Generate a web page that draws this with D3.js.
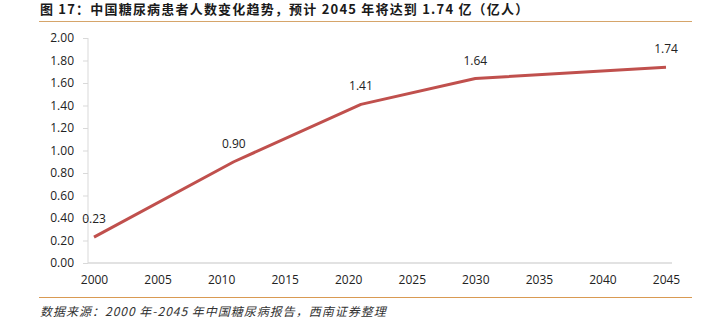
<!DOCTYPE html>
<html><head><meta charset="utf-8">
<script src="https://cdn.jsdelivr.net/npm/d3@7/dist/d3.min.js"></script>
<style>
html,body{margin:0;padding:0;background:#fff;}
svg{display:block;}
</style></head>
<body>
<svg id="c" width="720" height="323"></svg>
<script>
const title = "图 17：中国糖尿病患者人数变化趋势，预计 2045 年将达到 1.74 亿（亿人）";
const source = "数据来源：2000 年-2045 年中国糖尿病报告，西南证券整理";
const years = [2000, 2011, 2021, 2030, 2045];
const values = [0.23, 0.90, 1.41, 1.64, 1.74];
const xTicks = [2000, 2005, 2010, 2015, 2020, 2025, 2030, 2035, 2040, 2045];
const yTicks = [0, 0.2, 0.4, 0.6, 0.8, 1.0, 1.2, 1.4, 1.6, 1.8, 2.0];

const svg = d3.select("#c");
const x = d3.scaleLinear().domain([2000, 2045]).range([94, 666]);
const y = d3.scaleLinear().domain([0, 2]).range([263, 38]);

// title
svg.append("text").attr("x", 40).attr("y", 13.5)
  .attr("font-family", "'Noto Sans CJK SC', sans-serif")
  .attr("font-size", 13).attr("font-weight", "bold")
  .attr("letter-spacing", 1.2).attr("fill", "#1a1a1a")
  .text(title);
svg.append("line").attr("x1", 39).attr("x2", 692).attr("y1", 21.5).attr("y2", 21.5)
  .attr("stroke", "#d6a56a").attr("stroke-width", 1.2);

// y axis
const yAxis = svg.append("g").attr("transform", "translate(88,0)")
  .call(d3.axisLeft(y).tickValues(yTicks).tickFormat(d3.format(".2f")).tickSize(5).tickPadding(9));
yAxis.select(".domain").attr("stroke", "#d9d9d9").attr("d", `M0,${y(2)}V${y(0)}`);
yAxis.selectAll(".tick line").attr("stroke", "#d9d9d9");
yAxis.selectAll(".tick text").attr("font-family", "'Open Sans', sans-serif")
  .attr("font-size", 12).attr("fill", "#222");

// x axis
const xAxis = svg.append("g").attr("transform", "translate(0,263)")
  .call(d3.axisBottom(x).tickValues(xTicks).tickFormat(d3.format("d")).tickSize(0).tickPadding(12));
xAxis.select(".domain").attr("stroke", "#d9d9d9").attr("stroke-width", 1.5).attr("d", "M88,0H672");
xAxis.selectAll(".tick text").attr("font-family", "'Open Sans', sans-serif")
  .attr("font-size", 12).attr("fill", "#222");

// line
const pts = years.map((d, i) => [d, values[i]]);
svg.append("path").datum(pts)
  .attr("fill", "none").attr("stroke", "#c0504d").attr("stroke-width", 3)
  .attr("stroke-linejoin", "round")
  .attr("d", d3.line().x(d => x(d[0])).y(d => y(d[1])));

// labels
svg.selectAll(".lbl").data(pts).enter().append("text")
  .attr("x", d => x(d[0])).attr("y", d => y(d[1]) - 14)
  .attr("text-anchor", "middle")
  .attr("font-family", "'Open Sans', sans-serif").attr("font-size", 12).attr("fill", "#222")
  .text(d => d3.format(".2f")(d[1]));

// footer
svg.append("line").attr("x1", 39).attr("x2", 692).attr("y1", 297.5).attr("y2", 297.5)
  .attr("stroke", "#d99a52").attr("stroke-width", 1.2);
svg.append("text").attr("x", 40).attr("y", 316)
  .attr("font-family", "'Noto Sans CJK SC', sans-serif")
  .attr("font-size", 12).attr("font-style", "italic")
  .attr("letter-spacing", 1).attr("fill", "#333")
  .text(source);
</script>
</body></html>
